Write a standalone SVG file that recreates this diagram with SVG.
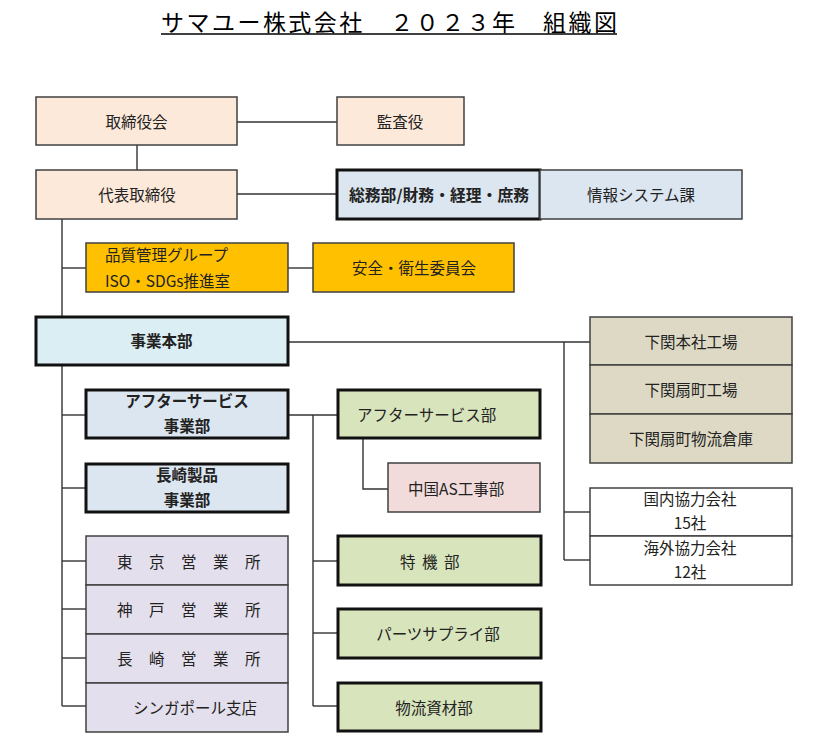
<svg xmlns="http://www.w3.org/2000/svg" width="838" height="746" viewBox="0 0 838 746">
<style>
text{font-family:"Noto Sans CJK JP","Noto Sans",sans-serif;font-size:15.5px;fill:#222;}
.c{text-anchor:middle;dominant-baseline:central;}
.s{dominant-baseline:central;}
.b{font-weight:bold;}
.n{stroke:#404040;stroke-width:1.5;}
.k{stroke:#111;stroke-width:3;}
.peach{fill:#fde9d9;}
.blue{fill:#dce6f1;}
.orange{fill:#ffc000;}
.cyan{fill:#daeef3;}
.green{fill:#d8e4bc;}
.pink{fill:#f2dcdb;}
.tan{fill:#ddd9c4;}
.lav{fill:#e4dfec;}
.white{fill:#ffffff;}
.sp{letter-spacing:0.5px;}
#connectors path{fill:none;stroke:#333;stroke-width:1.4;}
</style>
<rect width="838" height="746" fill="#ffffff"/>
<g id="title">
<text x="161" y="31" style="font-size:23px;fill:#000" textLength="456" lengthAdjust="spacing">サマユー株式会社　２０２３年　組織図</text>
<line x1="161" y1="34" x2="617" y2="34" stroke="#000" stroke-width="1.6"/>
</g>
<g id="connectors">
<path d="M237,122 H337"/>
<path d="M137,145 V170"/>
<path d="M237,194 H337"/>
<path d="M62,219 V316"/>
<path d="M62,268 H86"/>
<path d="M288,268 H313"/>
<path d="M62,365 V706"/>
<path d="M62,415 H85"/>
<path d="M62,488 H85"/>
<path d="M62,561 H86"/>
<path d="M62,609 H86"/>
<path d="M62,658 H86"/>
<path d="M62,706 H86"/>
<path d="M288,342 H590"/>
<path d="M564,342 V560"/>
<path d="M564,512 H590"/>
<path d="M564,560 H590"/>
<path d="M288,415 H337"/>
<path d="M313,415 V706"/>
<path d="M313,561 H337"/>
<path d="M313,633 H337"/>
<path d="M313,706 H337"/>
<path d="M363,439 V489 H388"/>
</g>
<g id="board"><rect x="36" y="97" width="201" height="48" class="peach n"/><text x="136.5" y="121" class="c">取締役会</text></g>
<g id="auditor"><rect x="337" y="97" width="127" height="48" class="peach n"/><text x="400" y="121" class="c">監査役</text></g>
<g id="president"><rect x="36" y="170" width="201" height="49" class="peach n"/><text x="137" y="194" class="c">代表取締役</text></g>
<g id="general-affairs"><rect x="337" y="170" width="203" height="49" class="blue k"/><text x="439" y="194" class="c b" textLength="180" lengthAdjust="spacingAndGlyphs">総務部/財務・経理・庶務</text></g>
<g id="info-systems"><rect x="540" y="170" width="202" height="49" class="blue n"/><text x="641" y="194" class="c">情報システム課</text></g>
<g id="quality"><rect x="86" y="243" width="202" height="49" class="orange n"/><text x="105" y="254" class="s">品質管理グループ</text><text x="105" y="280" class="s">ISO・SDGs推進室</text></g>
<g id="safety"><rect x="313" y="243" width="201" height="49" class="orange n"/><text x="414" y="267" class="c">安全・衛生委員会</text></g>
<g id="business-hq"><rect x="36" y="317" width="252" height="48" class="cyan k"/><text x="161.5" y="340" class="c b">事業本部</text></g>
<g id="as-division"><rect x="86" y="390" width="202" height="48" class="blue k"/><text x="187" y="400" class="c b">アフターサービス</text><text x="187" y="425" class="c b">事業部</text></g>
<g id="nagasaki-division"><rect x="86" y="464" width="202" height="48" class="blue k"/><text x="187" y="474" class="c b">長崎製品</text><text x="187" y="499" class="c b">事業部</text></g>
<g id="as-dept"><rect x="338" y="390" width="202" height="48" class="green k"/><text x="357" y="414" class="s">アフターサービス部</text></g>
<g id="china-as"><rect x="388" y="463" width="152" height="49" class="pink n"/><text x="408" y="488" class="s">中国AS工事部</text></g>
<g id="special-machinery"><rect x="338" y="536" width="203" height="49" class="green k"/><text x="400" y="561" class="s" style="letter-spacing:-4.5px">特　機　部</text></g>
<g id="parts-supply"><rect x="338" y="609" width="203" height="49" class="green k"/><text x="438" y="633" class="c">パーツサプライ部</text></g>
<g id="logistics"><rect x="338" y="683" width="203" height="48" class="green k"/><text x="434" y="707" class="c">物流資材部</text></g>
<g id="tokyo"><rect x="86" y="536" width="202" height="49" class="lav n"/><text x="117" y="561" class="s sp">東　京　営　業　所</text></g>
<g id="kobe"><rect x="86" y="585" width="202" height="49" class="lav n"/><text x="117" y="609" class="s sp">神　戸　営　業　所</text></g>
<g id="nagasaki"><rect x="86" y="634" width="202" height="49" class="lav n"/><text x="117" y="658" class="s sp">長　崎　営　業　所</text></g>
<g id="singapore"><rect x="86" y="683" width="202" height="49" class="lav n"/><text x="195" y="707" class="c">シンガポール支店</text></g>
<g id="shimonoseki-hq"><rect x="590" y="317" width="202" height="48" class="tan n"/><text x="691" y="341" class="c">下関本社工場</text></g>
<g id="ogimachi-plant"><rect x="590" y="365" width="202" height="49" class="tan n"/><text x="691" y="389" class="c">下関扇町工場</text></g>
<g id="ogimachi-warehouse"><rect x="590" y="414" width="202" height="49" class="tan n"/><text x="691" y="438" class="c">下関扇町物流倉庫</text></g>
<g id="domestic-partners"><rect x="590" y="488" width="202" height="48" class="white n"/><text x="690" y="498" class="c">国内協力会社</text><text x="690" y="522" class="c">15社</text></g>
<g id="overseas-partners"><rect x="590" y="536" width="202" height="49" class="white n"/><text x="690" y="547" class="c">海外協力会社</text><text x="690" y="571" class="c">12社</text></g>
</svg>
